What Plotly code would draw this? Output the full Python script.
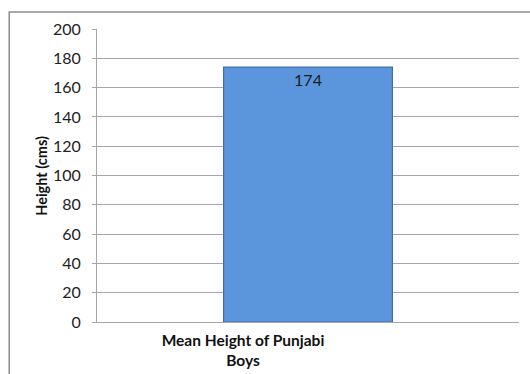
import plotly.graph_objects as go

# Chart data
categories = ["Mean Height of Punjabi<br>Boys"]
heights = [174]
y_ticks = [0, 20, 40, 60, 80, 100, 120, 140, 160, 180, 200]
y_title = "Height (cms)"

FONT = "Lato, 'Open Sans', sans-serif"
GRID = "#a6a6a6"

fig = go.Figure(
    go.Bar(
        x=categories,
        y=heights,
        width=0.40,
        marker=dict(color="#5b96dd", line=dict(color="#3f6fa8", width=1.2)),
        text=[str(v) for v in heights],
        textposition="inside",
        insidetextanchor="end",
        textfont=dict(family=FONT, size=16, color="#1a1a1a"),
        cliponaxis=False,
    )
)

fig.update_layout(
    width=530,
    height=374,
    margin=dict(l=97, r=11, t=29, b=52),
    paper_bgcolor="white",
    plot_bgcolor="white",
    showlegend=False,
    font=dict(family=FONT, size=15, color="#222222"),
    shapes=[
        # outer chart frame
        dict(
            type="rect",
            xref="paper",
            yref="paper",
            x0=-0.208,
            x1=1.05,
            y0=-0.2,
            y1=1.058,
            line=dict(color="#8c8c8c", width=1.5),
            fillcolor="rgba(0,0,0,0)",
            layer="below",
        )
    ],
    annotations=[
        # vertical axis title
        dict(
            text=f"<b>{y_title}</b>",
            xref="paper",
            yref="paper",
            x=-0.132,
            y=0.5,
            xanchor="center",
            yanchor="middle",
            textangle=-90,
            showarrow=False,
            font=dict(family=FONT, size=14.5, color="#111111"),
        )
    ],
)

fig.update_yaxes(
    automargin=False,
    range=[0, 200],
    tickvals=y_ticks,
    showgrid=True,
    gridcolor=GRID,
    gridwidth=1,
    showline=True,
    linecolor=GRID,
    linewidth=1,
    ticks="outside",
    ticklen=4,
    tickcolor=GRID,
    ticklabelstandoff=8,
    zeroline=False,
    tickfont=dict(family=FONT, size=16, color="#222222"),
)

fig.update_xaxes(
    automargin=False,
    showline=True,
    linecolor=GRID,
    linewidth=1,
    ticks="",
    ticklabelstandoff=4,
    ticklabelshift=-65,
    tickfont=dict(family=FONT, size=15.5, color="#111111"),
    tickprefix="<b>",
    ticksuffix="</b>",
)

fig.write_html("out.html")
